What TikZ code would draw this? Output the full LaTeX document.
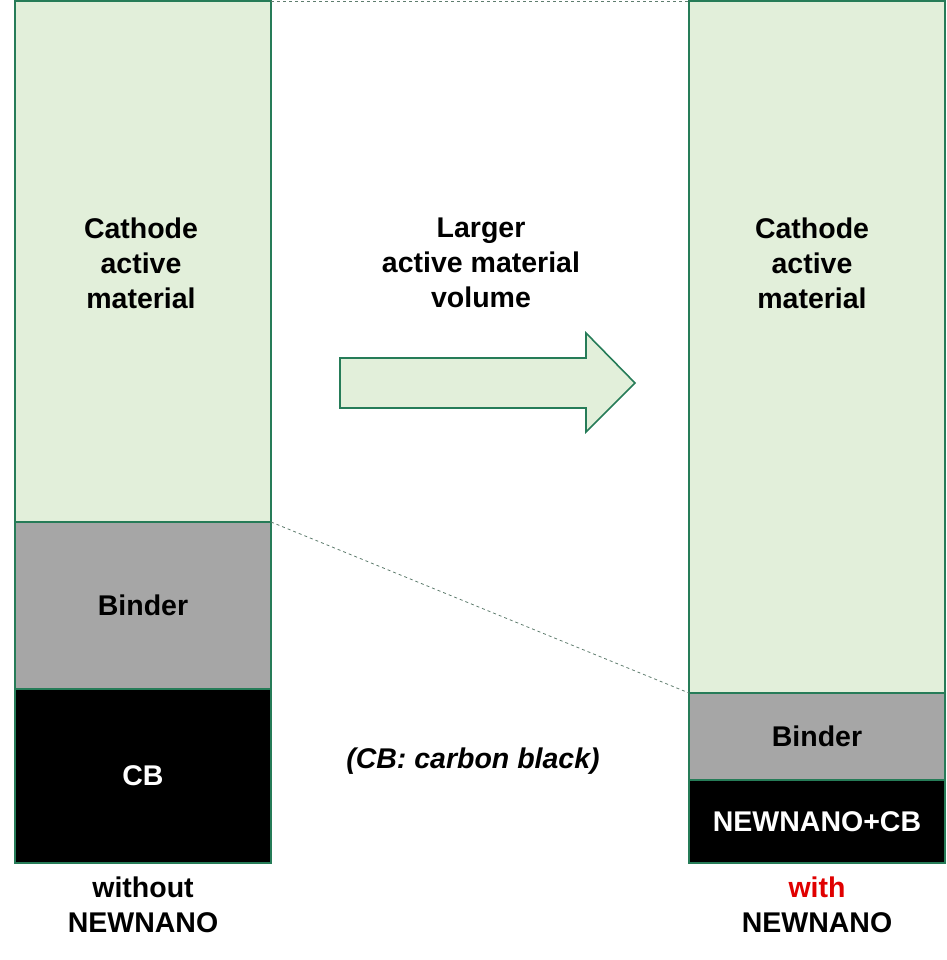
\documentclass[tikz,border=0pt]{standalone}
\usepackage{fontspec}
\setmainfont{Liberation Sans}
\usetikzlibrary{positioning}
\definecolor{cathgreen}{RGB}{226,239,218}
\definecolor{edgegreen}{RGB}{38,124,88}
\definecolor{bindergray}{RGB}{166,166,166}
\definecolor{guidegray}{RGB}{95,125,110}
\definecolor{withred}{RGB}{224,0,0}

\begin{document}
\begin{tikzpicture}[x=1pt,y=-1pt,font=\bfseries\fontsize{28.5}{35}\selectfont,
    layer/.style={draw=edgegreen, line width=1.6pt, minimum width=256pt, inner sep=0pt, outer sep=0pt, anchor=north west},
    cathode/.style={layer, fill=cathgreen},
    binder/.style={layer, fill=bindergray},
    cb/.style={layer, fill=black, text=white},
    guide/.style={draw=guidegray, dashed, line width=0.8pt},
    caption/.style={align=center}]

    \useasboundingbox (0,0) rectangle (946,960);

    % without
    \node[cathode, minimum height=521pt] (cathL) at (15,1) {};
    \node[binder, minimum height=167pt] (binderL) at (cathL.south west) {Binder};
    \node[cb, minimum height=174pt] (cbL) at (binderL.south west) {CB};

    % with
    \node[cathode, minimum height=692pt] (cathR) at (689,1) {};
    \node[binder, minimum height=87pt] (binderR) at (cathR.south west) {Binder};
    \node[cb, minimum height=83pt] (cbR) at (binderR.south west) {NEWNANO+CB};

    \draw[guide] (cathL.north east) -- (cathR.north west);
    \draw[guide] (cathL.south east) -- (cathR.south west);

    \node[caption] (textL) at (141,263) {Cathode\\active\\material};
    \node[caption] (textR) at (812,263) {Cathode\\active\\material};
    \node[caption] (gain) at (481,263) {Larger\\active material\\volume};

    \draw[draw=edgegreen, fill=cathgreen, line width=1.6pt] (340,358) -- (586,358) -- (586,333) -- (635,383) -- (586,432) -- (586,408) -- (340,408) -- cycle;

    \node (note) at (473,761) {\itshape (CB: carbon black)};

    \node[caption, below=10pt of cbL] (labelL) {without\\NEWNANO};
    \node[caption, below=10pt of cbR] (labelR) {\textcolor{withred}{with}\\NEWNANO};
    %
\end{tikzpicture}
\end{document}
